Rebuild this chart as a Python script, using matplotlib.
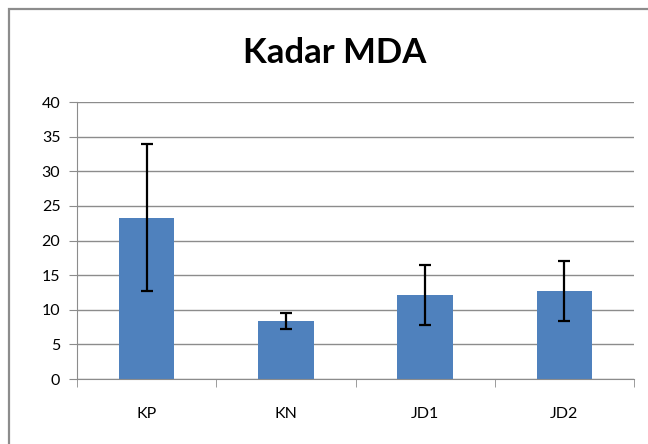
import matplotlib
matplotlib.use("Agg")
import matplotlib.pyplot as plt
from matplotlib.patches import Rectangle
import numpy as np

categories = ["KP", "KN", "JD1", "JD2"]
mda_mean = [23.3, 8.4, 12.1, 12.7]
mda_err = [10.65, 1.15, 4.3, 4.3]

plt.rcParams["font.family"] = ["Lato", "DejaVu Sans"]

fig = plt.figure(figsize=(6.48, 4.44), dpi=100)
fig.patch.set_facecolor("white")

# chart-area border (runs off the right and bottom edges like the reference)
fig.patches.append(Rectangle((9 / 648, -0.05), 1.2, 1 - 9 / 444 + 0.05,
                             transform=fig.transFigure, fill=False,
                             edgecolor="#8c8c8c", linewidth=1.6, clip_on=False))

ax = fig.add_axes([77 / 648, 65 / 444, 557 / 648, 277 / 444])
x = np.arange(len(categories))
ax.bar(x, mda_mean, width=0.4, color="#4f81bd", zorder=2)
ax.errorbar(x, mda_mean, yerr=mda_err, fmt="none", ecolor="black",
            elinewidth=1.6, capsize=4, capthick=1.6, zorder=3)

ax.set_xlim(-0.5, len(categories) - 0.5)
ax.set_ylim(0, 40)
ax.set_yticks(np.arange(0, 41, 5))
ax.yaxis.grid(True, color="#8c8c8c", linewidth=1.0, zorder=0)
ax.set_axisbelow(True)

ax.set_xticks(x)
ax.set_xticklabels(categories, fontsize=11.5)
ax.set_xticks(np.arange(-0.5, len(categories)), minor=True)
ax.tick_params(axis="x", which="major", length=0, pad=20)
ax.tick_params(axis="x", which="minor", length=6, color="#8c8c8c", direction="out")
ax.tick_params(axis="y", length=6, color="#8c8c8c", labelsize=11.5, pad=6)

for side in ["top", "right"]:
    ax.spines[side].set_visible(False)
for side in ["left", "bottom"]:
    ax.spines[side].set_color("#8c8c8c")

fig.text(335 / 648, 1 - 53 / 444, "Kadar MDA", ha="center", va="center",
         fontsize=25, fontweight="bold")

fig.savefig("out.png", dpi=100)
